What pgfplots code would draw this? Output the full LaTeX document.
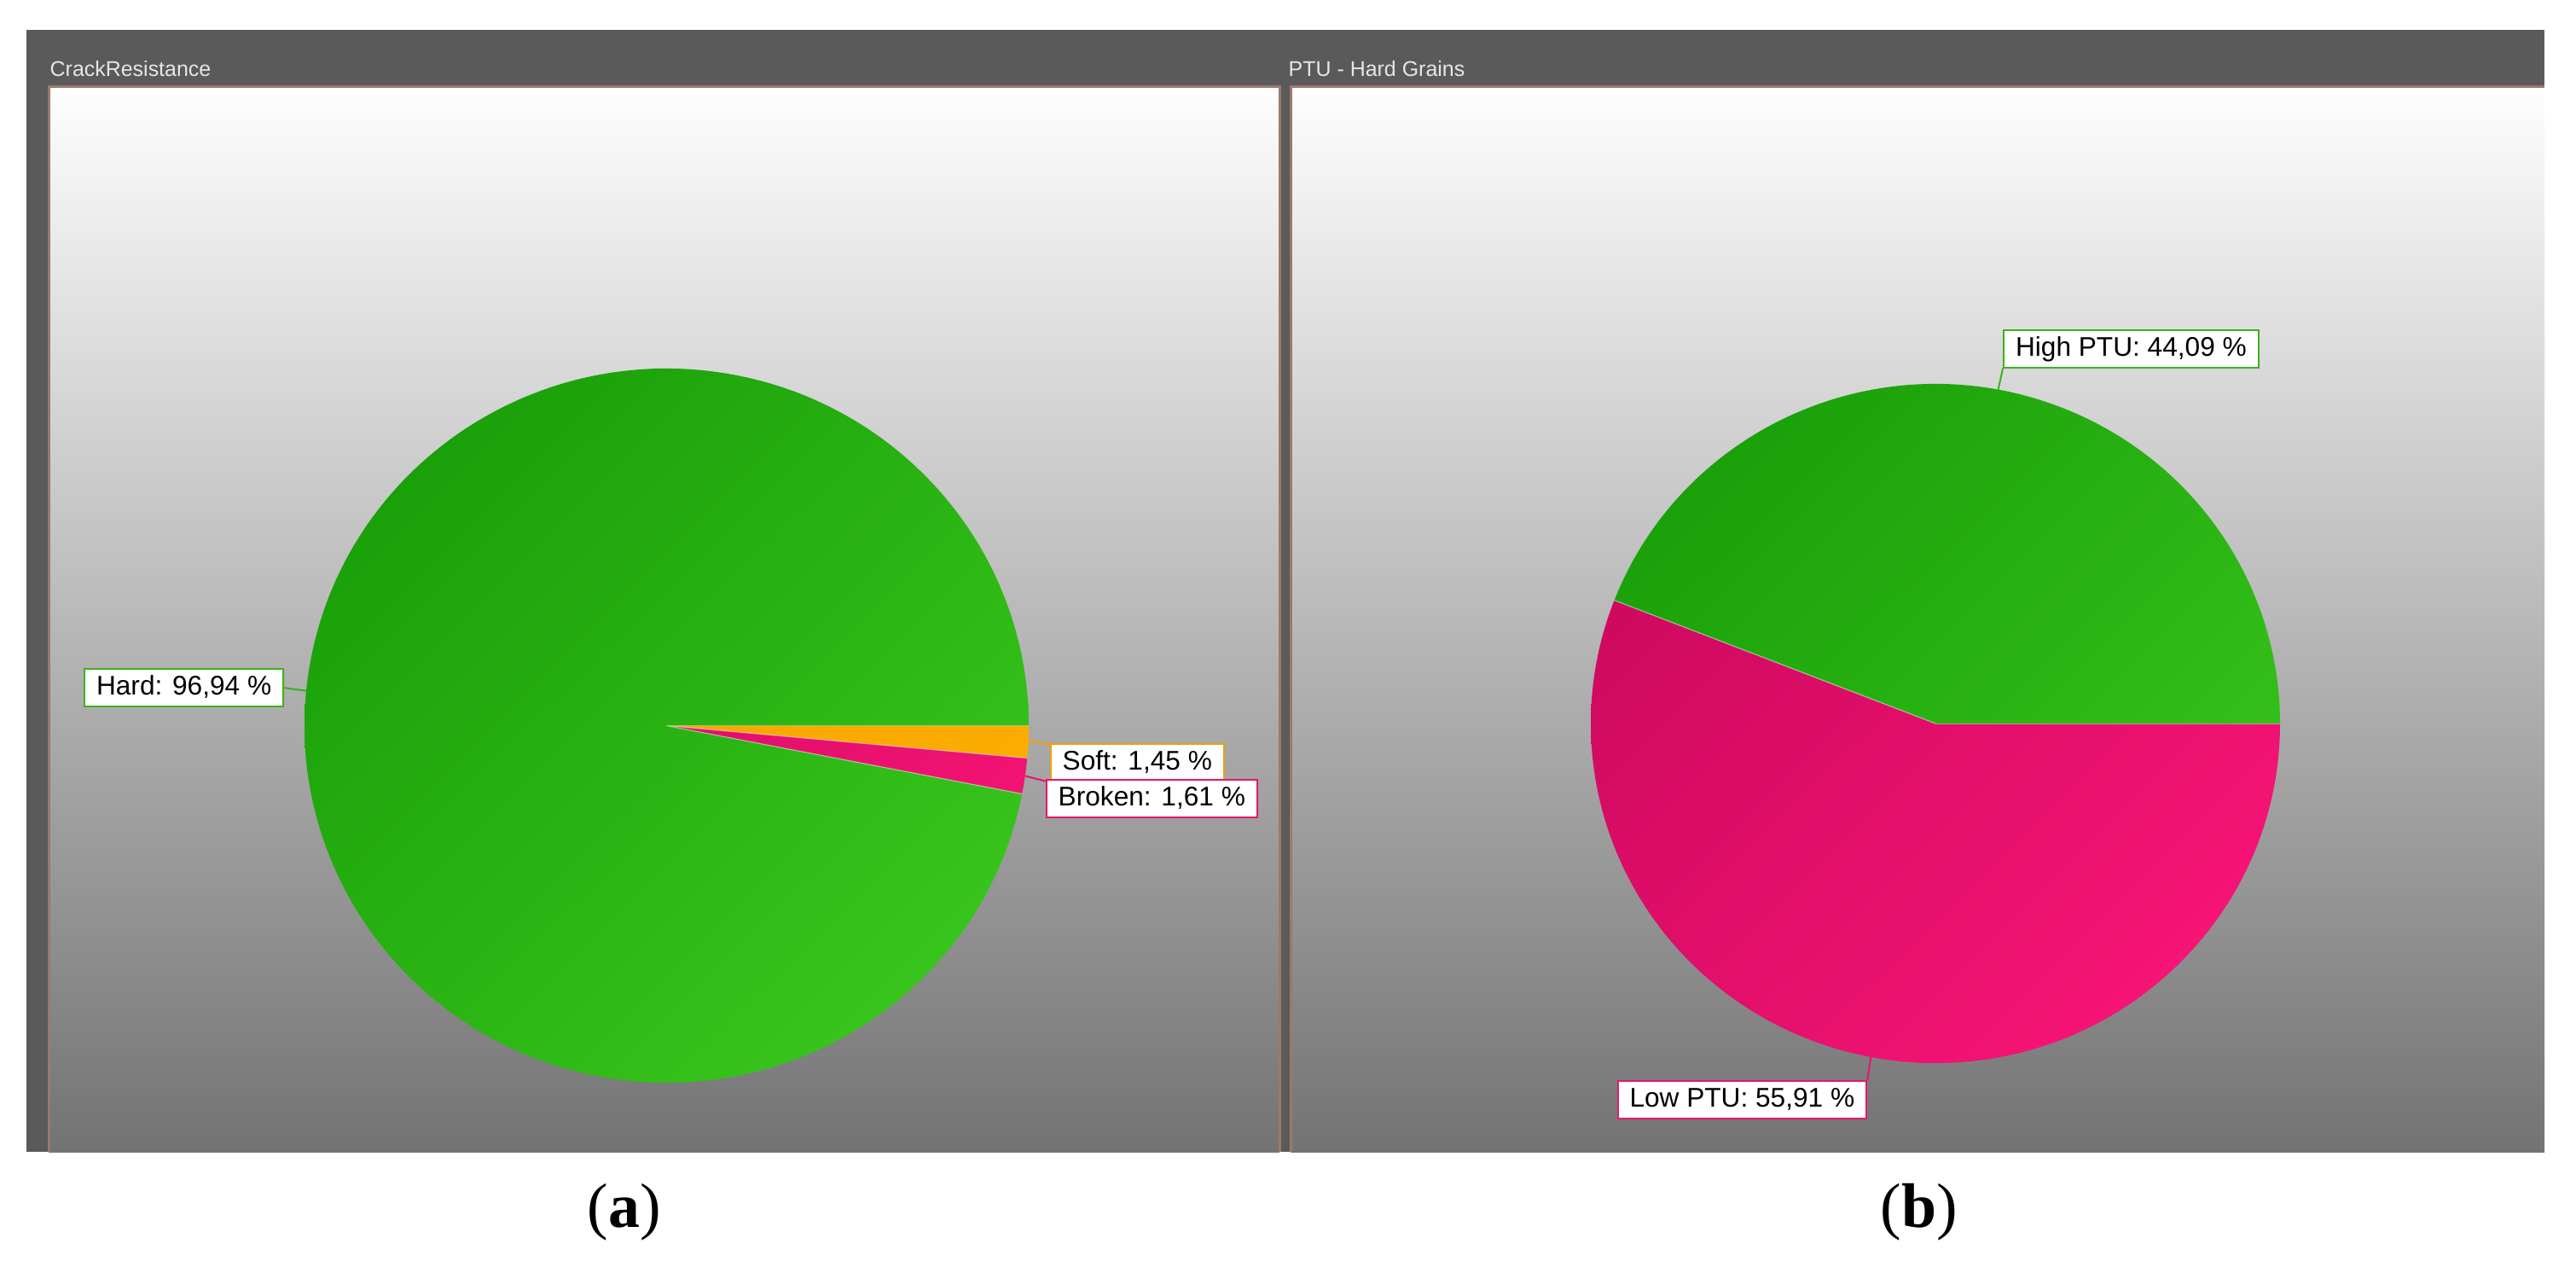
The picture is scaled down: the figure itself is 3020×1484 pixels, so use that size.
\documentclass[border=0pt]{standalone}
\usepackage{pgfplots}
\pgfplotsset{compat=1.18}
\usetikzlibrary{shadings}
\usepackage{fontspec}
\setmainfont{Liberation Serif}
\newfontfamily\labelfont{Liberation Sans}

\definecolor{frame}{HTML}{5A5A5A}
\definecolor{edge}{HTML}{9A7A6A}
\definecolor{titletext}{HTML}{E6E6E6}
\definecolor{bgtop}{HTML}{FEFEFE}
\definecolor{bgbot}{HTML}{737373}
\definecolor{hardA}{HTML}{149905}
\definecolor{hardB}{HTML}{3ECC20}
\definecolor{brokenA}{HTML}{C2075A}
\definecolor{brokenB}{HTML}{FF167A}
\definecolor{softA}{HTML}{F29C00}
\definecolor{softB}{HTML}{FFB200}
\definecolor{hardline}{HTML}{3CB01E}
\definecolor{softline}{HTML}{F0A000}
\definecolor{brokenline}{HTML}{E8146E}

\tikzset{
  lbl/.style={draw=#1, fill=white, line width=0.2mm,
    font=\labelfont\fontsize{9}{10}\selectfont, text=black,
    inner xsep=1.4mm, inner ysep=0pt, minimum height=4.4mm,
    text height=6.6pt, text depth=1.8pt},
  lead/.style={draw=#1, line width=0.2mm},
}

% pie drawn clockwise from 3 o'clock; #1 x radius, #2 y radius, #3 list value/colour
\newcommand\pie[3]{%
  \gdef\cum{0}%
  \foreach \v/\col in {#3}{%
    \pgfmathsetmacro\aS{-3.6*\cum}%
    \pgfmathsetmacro\aE{-3.6*(\cum+\v)}%
    \pgfmathsetmacro\xs{cos(\aS)}%
    \pgfmathsetmacro\ys{sin(\aS)}%
    \begin{scope}
      \clip (axis cs:0,0) -- (axis cs:\xs,\ys)
        arc[start angle=\aS, end angle=\aE, x radius=#1, y radius=#2] -- cycle;
      \shade[upper left=\col A, lower right=\col B,
             upper right=\col A!50!\col B, lower left=\col A!50!\col B]
        (axis cs:-1,-1) rectangle (axis cs:1,1);
    \end{scope}
    \draw[white, opacity=0.45, line width=0.12mm] (axis cs:0,0) -- (axis cs:\xs,\ys);
    \pgfmathsetmacro\nc{\cum+\v}%
    \xdef\cum{\nc}%
  }%
}
% leader start on the rim at angle #1
\newcommand\rim[1]{(axis cs:{cos(#1)},{sin(#1)})}

\begin{document}
\begin{tikzpicture}
\begin{scope}[x=0.1mm, y=-0.1mm, yshift=148.4mm]
  \useasboundingbox (0,0) rectangle (3020,1484);
  \fill[white] (0,0) rectangle (3020,1484);
  \fill[frame] (31,35) rectangle (2983,1350);
  \shade[top color=bgtop, bottom color=bgbot] (57,102) rectangle (1500,1350);
  \shade[top color=bgtop, bottom color=bgbot] (1513,102) rectangle (2983,1350);
  \draw[edge, line width=0.3mm] (57,1350) -- (57,102) -- (1500,102) -- (1500,1350);
  \draw[edge, line width=0.3mm] (1513,1350) -- (1513,102) -- (2983,102);
  \node[anchor=west, inner sep=0pt, text=titletext,
        font=\labelfont\fontsize{7.1}{8}\selectfont] at (58,81) {CrackResistance};
  \node[anchor=west, inner sep=0pt, text=titletext,
        font=\labelfont\fontsize{7.1}{8}\selectfont] at (1510,81) {PTU - Hard Grains};
  \node[font=\fontsize{21}{24}\selectfont] at (732,1421) {(\textbf{a})};
  \node[font=\fontsize{21}{24}\selectfont] at (2250,1421) {(\textbf{b})};
\end{scope}

% (a) CrackResistance
\begin{axis}[at={(78.15mm,63.35mm)}, anchor=center, hide axis, scale only axis,
  width=84.9mm, height=83.7mm, xmin=-1, xmax=1, ymin=-1, ymax=1, clip=false]
\pgfplotsextra{
  \pie{42.45mm}{41.85mm}{1.45/soft, 1.61/broken, 96.94/hard}
  \node[lbl=hardline] (h) at (axis cs:-1.333,0.106) {Hard: 96,94 \%};
  \node[lbl=softline] (s) at (axis cs:1.300,-0.103) {Soft: 1,45 \%};
  \node[lbl=brokenline] (b) at (axis cs:1.340,-0.2055) {Broken: 1,61 \%};
  \draw[lead=hardline] \rim{174.4} -- (h.east);
  \draw[lead=softline] \rim{-2.4} -- ([yshift=-0.2mm]s.north west);
  \draw[lead=brokenline] \rim{-8.1} -- ([yshift=-0.2mm]b.north west);
}
\end{axis}

% (b) PTU - Hard Grains
\begin{axis}[at={(226.9mm,63.6mm)}, anchor=center, hide axis, scale only axis,
  width=80.8mm, height=79.6mm, xmin=-1, xmax=1, ymin=-1, ymax=1, clip=false]
\pgfplotsextra{
  \pie{40.4mm}{39.8mm}{55.91/broken, 44.09/hard}
  \node[lbl=hardline] (hp) at (axis cs:0.568,1.104) {High PTU: 44,09 \%};
  \node[lbl=brokenline] (lp) at (axis cs:-0.561,-1.109) {Low PTU: 55,91 \%};
  \draw[lead=hardline] \rim{79.5} -- (hp.south west);
  \draw[lead=brokenline] \rim{-100.8} -- (lp.north east);
}
\end{axis}
\end{tikzpicture}
\end{document}
